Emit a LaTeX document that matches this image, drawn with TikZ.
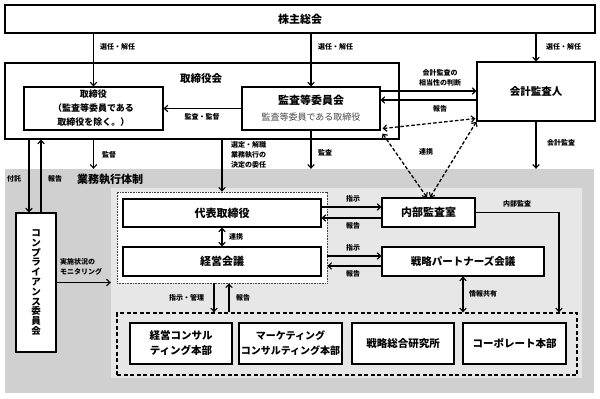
\documentclass[tikz,border=0pt]{standalone}
\usepackage{fontspec}
\setmainfont{Noto Sans CJK JP}
\usetikzlibrary{arrows.meta}
\definecolor{outergray}{RGB}{208,208,208}
\definecolor{innergray}{RGB}{231,231,231}
\definecolor{subtxt}{RGB}{70,70,70}
\begin{document}
\begin{tikzpicture}[x=1pt,y=-1pt,
  box/.style={draw,line width=1.1pt,fill=white,inner sep=0pt,align=center,font=\bfseries\fontsize{11}{13}\selectfont},
  lbl/.style={inner sep=0pt,align=left,font=\bfseries\fontsize{7}{10}\selectfont},
  clbl/.style={lbl,align=center},
  arr/.style={line width=1.2pt,-{Straight Barb[length=3.5pt,width=6.5pt,line width=1.1pt]}},
  barr/.style={line width=1.2pt,{Straight Barb[length=3.5pt,width=6.5pt,line width=1.1pt]}-{Straight Barb[length=3.5pt,width=6.5pt,line width=1.1pt]}},
  dbarr/.style={barr,line width=1.3pt,dash pattern=on 3.5pt off 2pt}]
\useasboundingbox (0,0) rectangle (600,399);
\fill[white] (0,0) rectangle (600,399);
% regions
\node[fill=outergray,inner sep=0pt,minimum width=589pt,minimum height=224pt] (exec) at (299.5,281) {};
\node[fill=innergray,inner sep=0pt,minimum width=471pt,minimum height=190pt] (execin) at (346.5,283) {};
% top
\node[box,minimum width=590pt,minimum height=28pt] (sh) at (300,19) {株主総会};
\node[box,minimum width=394pt,minimum height=76pt] (bod) at (202,101) {};
\node[inner sep=0pt,font=\bfseries\fontsize{10.5}{12}\selectfont] (bodl) at (201,79) {取締役会};
\node[box,minimum width=139pt,minimum height=43pt,font=\bfseries\fontsize{9}{14}\selectfont] (dir) at (93.5,108.5) {取締役\\（監査等委員である\\取締役を除く。）};
\node[box,minimum width=138pt,minimum height=43pt] (acm) at (311,108.5) {監査等委員会\\[3pt]{\mdseries\fontsize{9}{11}\selectfont\color{subtxt}監査等委員である取締役}};
\node[box,minimum width=118pt,minimum height=59pt,font=\bfseries\fontsize{10.5}{13}\selectfont] (aud) at (536,91.5) {会計監査人};
% compliance
\node[box,minimum width=40pt,minimum height=139pt,font=\bfseries\fontsize{9.5}{9.8}\selectfont] (comp) at (36,282.5) {コ\\ン\\プ\\ラ\\イ\\ア\\ン\\ス\\委\\員\\会};
% execution
\node[draw=black!75,line width=0.8pt,dash pattern=on 0.8pt off 0.8pt,fill=white,inner sep=0pt,minimum width=210pt,minimum height=91pt] (dotted) at (222,237.5) {};
\node[box,minimum width=198pt,minimum height=28pt] (rep) at (222,213) {代表取締役};
\node[box,minimum width=198pt,minimum height=29pt] (mgmt) at (222,261.5) {経営会議};
\node[box,minimum width=93pt,minimum height=29pt] (ia) at (428.5,212.5) {内部監査室};
\node[box,minimum width=162pt,minimum height=29pt,font=\bfseries\fontsize{10.5}{13}\selectfont] (sp) at (463,261.5) {戦略パートナーズ会議};
\node[draw,line width=1.3pt,dash pattern=on 4pt off 2.5pt,inner sep=0pt,minimum width=460pt,minimum height=62pt] (dashed) at (347,344) {};
\node[box,minimum width=102pt,minimum height=41pt,font=\bfseries\fontsize{10.5}{15}\selectfont] (b1) at (181,343.5) {経営コンサル\\ティング本部};
\node[box,minimum width=103pt,minimum height=41pt,font=\bfseries\fontsize{10}{15}\selectfont] (b2) at (290.5,343.5) {マーケティング\\コンサルティング本部};
\node[box,minimum width=102pt,minimum height=41pt,font=\bfseries\fontsize{10.5}{15}\selectfont] (b3) at (403,343.5) {戦略総合研究所};
\node[box,minimum width=103pt,minimum height=41pt,font=\bfseries\fontsize{10.5}{15}\selectfont] (b4) at (514.5,343.5) {コーポレート本部};
% helper coordinates
\coordinate (x29) at (29,0);
\coordinate (x41) at (41,0);
\coordinate (x214) at (214,0);
\coordinate (x229) at (229,0);
\coordinate (x559) at (559,0);
\coordinate (y91) at (0,91);
\coordinate (y100) at (0,100);
\coordinate (y207) at (0,207);
\coordinate (y218) at (0,218);
\coordinate (y256) at (0,256);
\coordinate (y266) at (0,266);
% connectors
\draw[arr] (sh.south -| dir.north) -- (dir.north);
\draw[arr] (sh.south -| acm.north) -- (acm.north);
\draw[arr] (sh.south -| aud.north) -- (aud.north);
\draw[arr] (acm.west) -- (dir.east);
\draw[arr] (acm.east |- y91) -- (aud.west |- y91);
\draw[arr] (aud.west |- y100) -- (acm.east |- y100);
\draw[dbarr] ([xshift=2pt,yshift=2pt]acm.south east) -- ([xshift=-1pt,yshift=3pt]aud.south west);
\draw[dbarr] ([xshift=2pt,yshift=-3pt]acm.south east) -- ([xshift=-1.5pt]ia.north);
\draw[dbarr] (aud.south west) -- ([xshift=1.5pt]ia.north);
\draw[arr] (bod.south -| dir.north) -- (exec.north -| dir.north);
\draw[arr] (acm.south) -- (acm.south |- exec.north);
\draw[arr] (aud.south) -- (aud.south |- exec.north);
\draw[arr] (bod.south -| dotted.north) -- (dotted.north);
\draw[arr] (bod.south -| x29) -- (comp.north -| x29);
\draw[arr] (comp.north -| x41) -- (bod.south -| x41);
\draw[arr] (comp.east) -- (comp.east -| execin.west);
\draw[barr] (rep.south) -- (mgmt.north);
\draw[arr] (rep.east |- y207) -- (ia.west |- y207);
\draw[arr] (ia.west |- y218) -- (rep.east |- y218);
\draw[arr] (dotted.east |- y256) -- (sp.west |- y256);
\draw[arr] (sp.west |- y266) -- (dotted.east |- y266);
\draw[arr] (ia.east) -| (dashed.north -| x559);
\draw[barr] (sp.south) -- (sp.south |- dashed.north);
\draw[arr] (dotted.south -| x214) -- (dashed.north -| x214);
\draw[arr] (dashed.north -| x229) -- (dotted.south -| x229);
% labels
\node[lbl,anchor=west] (l1) at (100,47) {選任・解任};
\node[lbl,anchor=west] (l2) at (318,47) {選任・解任};
\node[lbl,anchor=west] (l3) at (546,47) {選任・解任};
\node[clbl] (l4) at (202,117) {監査・監督};
\node[clbl] (l5) at (440,78) {会計監査の\\相当性の判断};
\node[clbl] (l6) at (440,109) {報告};
\node[clbl] (l7) at (426,152) {連携};
\node[lbl,anchor=west] (l8) at (547,143) {会計監査};
\node[lbl,anchor=west] (l9) at (102,155) {監督};
\node[lbl,anchor=west] (l10) at (318,153) {監査};
\node[lbl,anchor=west] (l11) at (231,155) {選定・解職\\業務執行の\\決定の委任};
\node[clbl] (l12) at (14,179) {付託};
\node[clbl] (l13) at (55,179) {報告};
\node[inner sep=0pt,font=\bfseries\fontsize{11}{13}\selectfont] (l14) at (110,179) {業務執行体制};
\node[lbl,anchor=west] (l15) at (60,267) {実施状況の\\モニタリング};
\node[lbl,anchor=west] (l16) at (229,237) {連携};
\node[clbl] (l17) at (353,199) {指示};
\node[clbl] (l18) at (353,226) {報告};
\node[clbl] (l19) at (353,248) {指示};
\node[clbl] (l20) at (353,274) {報告};
\node[clbl] (l21) at (517,204) {内部監査};
\node[lbl,anchor=west] (l22) at (469,294) {情報共有};
\node[lbl,anchor=west] (l23) at (169,298) {指示・管理};
\node[lbl,anchor=west] (l24) at (236,298) {報告};
\end{tikzpicture}
\end{document}
